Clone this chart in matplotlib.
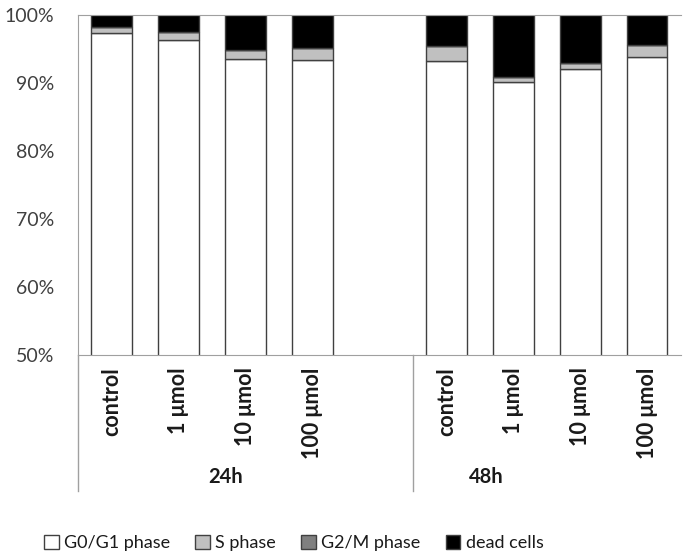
import matplotlib
matplotlib.use("Agg")
from matplotlib import pyplot as plt
from matplotlib.lines import Line2D
import numpy as np

plt.rcParams['font.family'] = ['Lato', 'DejaVu Sans']

# data (percent of cells); slot 4 is an empty gap between the two time points
categories = ["control", "1 \u03bcmol", "10 \u03bcmol", "100 \u03bcmol", "",
              "control", "1 \u03bcmol", "10 \u03bcmol", "100 \u03bcmol"]
g0g1 = [97.4, 96.4, 93.6, 93.4, 0, 93.3, 90.1, 92.0, 93.8]
s_phase = [0.8, 1.1, 1.2, 1.8, 0, 2.1, 0.8, 1.0, 1.8]
g2m = [0, 0, 0, 0, 0, 0, 0, 0, 0]
dead = [1.8, 2.5, 5.2, 4.8, 0, 4.6, 9.1, 7.0, 4.4]
groups = ["24h", "48h"]
group_x = [1.7, 5.6]

series = [("G0/G1 phase", g0g1, "white"),
          ("S phase", s_phase, "#c0c0c0"),
          ("G2/M phase", g2m, "#808080"),
          ("dead cells", dead, "black")]

fig = plt.figure(figsize=(6.85, 5.59), dpi=100)
ax = fig.add_axes([0.114, 0.365, 0.880, 0.608])

x = np.arange(len(categories))
mask = np.array([c != "" for c in categories])
bottom = np.zeros(len(categories))
for name, vals, col in series:
    v = np.array(vals, dtype=float)
    ax.bar(x[mask], v[mask], 0.6, bottom=bottom[mask], color=col,
           edgecolor="#404040", linewidth=1.0, label=name)
    bottom += v

ax.set_xlim(-0.5, 8.5)
ax.set_ylim(50, 100)
ax.set_yticks([50, 60, 70, 80, 90, 100])
ax.set_yticklabels([f"{t}%" for t in [50, 60, 70, 80, 90, 100]],
                   fontsize=14, color="#404040")
ax.tick_params(axis="y", length=0, pad=17)
ax.set_xticks(x)
ax.set_xticklabels(categories, rotation=90, fontsize=15.5, fontweight="bold",
                   color="#1a1a1a")
ax.tick_params(axis="x", length=0, pad=9)

for side in ["left", "bottom", "top"]:
    ax.spines[side].set_color("#a0a0a0")
ax.spines["right"].set_visible(False)

# extended category axis lines
ax.add_line(Line2D([0, 0], [0, -0.40], transform=ax.transAxes,
                   color="#a0a0a0", lw=1, clip_on=False))
trans = ax.get_xaxis_transform()
ax.add_line(Line2D([4.5, 4.5], [0, -0.40], transform=trans,
                   color="#a0a0a0", lw=1, clip_on=False))
for gx, g in zip(group_x, groups):
    ax.text(gx, -0.36, g, transform=trans, ha="center", va="center",
            fontsize=14.5, fontweight="bold", color="#1a1a1a")

fig.legend(loc="center", bbox_to_anchor=(0.429, 0.029), ncol=4, frameon=False,
           fontsize=13, handlelength=0.8, handleheight=0.8,
           columnspacing=1.4, handletextpad=0.3, labelcolor="#1a1a1a")

plt.savefig("out.png", dpi=100)
